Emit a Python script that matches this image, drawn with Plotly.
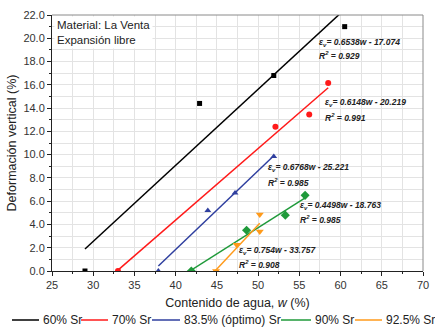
import plotly.graph_objects as go

# ---- data ----
series_names = ["60% Sr", "70% Sr", "83.5% (óptimo) Sr", "90% Sr", "92.5% Sr"]
colors = ["#000000", "#ff1a1a", "#2f3f9f", "#1f9a3a", "#ff9a1a"]
symbols = ["square", "circle", "triangle-up", "diamond", "triangle-down"]

w_60 = [29.0, 42.9, 51.9, 60.5]
ev_60 = [0.0, 14.4, 16.8, 21.0]
w_70 = [33.0, 52.1, 56.2, 58.5]
ev_70 = [0.0, 12.4, 13.45, 16.15]
w_835 = [37.9, 43.9, 47.2, 51.9]
ev_835 = [0.0, 5.2, 6.7, 9.85]
w_90 = [41.9, 48.6, 53.3, 55.7]
ev_90 = [0.0, 3.5, 4.8, 6.5]
w_925 = [44.9, 47.4, 50.2, 50.2]
ev_925 = [0.0, 2.25, 3.4, 4.85]

slopes = [0.6538, 0.6148, 0.6768, 0.4498, 0.754]
intercepts = [-17.074, -20.219, -25.221, -18.763, -33.757]
r2_values = ["0.929", "0.991", "0.985", "0.985", "0.908"]
fit_x_start = [29.0, 33.0, 37.9, 41.8, 44.8]
fit_x_end = [60.5, 58.5, 51.9, 55.8, 50.2]

eq_pos_x = [57.2, 57.9, 50.9, 54.8, 47.4]
eq_pos_y = [19.67, 14.52, 8.88, 5.64, 1.78]
r2_pos_y = [18.53, 13.23, 7.62, 4.42, 0.52]

w_data = [w_60, w_70, w_835, w_90, w_925]
ev_data = [ev_60, ev_70, ev_835, ev_90, ev_925]

# ---- layout geometry (pixels) ----
W, H = 435, 327
ML, MR, MT, MB = 52, 12, 15, 56
plot_w = W - ML - MR
plot_h = H - MT - MB


def px_to_paper_x(px):
    return (px - ML) / plot_w


def px_to_paper_y(py):
    return (H - MB - py) / plot_h


FONT = "Liberation Sans, Arial"

fig = go.Figure()

for i in range(5):
    xs = [fit_x_start[i], fit_x_end[i]]
    ys = [slopes[i] * x + intercepts[i] for x in xs]
    fig.add_trace(go.Scatter(
        x=xs, y=ys, mode="lines", name=series_names[i],
        line=dict(color=colors[i], width=1.5), showlegend=False,
    ))
marker_sizes = [5, 6, 6, 7, 7]
for i in range(5):
    fig.add_trace(go.Scatter(
        x=w_data[i], y=ev_data[i], mode="markers", showlegend=False,
        marker=dict(symbol=symbols[i], color=colors[i], size=marker_sizes[i],
                    line=dict(width=0)),
        cliponaxis=True,
    ))

ann = []
for i in range(5):
    sign = "-" if intercepts[i] < 0 else "+"
    ann.append(dict(
        x=eq_pos_x[i], y=eq_pos_y[i], xref="x", yref="y", xanchor="left", yanchor="middle",
        text=f"<b><i>ε<sub>v</sub>= {slopes[i]}w {sign} {abs(intercepts[i]):.3f}</i></b>",
        showarrow=False, font=dict(size=8.5, color="#222222", family=FONT),
    ))
    ann.append(dict(
        x=eq_pos_x[i], y=r2_pos_y[i], xref="x", yref="y", xanchor="left", yanchor="middle",
        text=f"<b><i>R<sup>2</sup> = {r2_values[i]}</i></b>",
        showarrow=False, font=dict(size=8.5, color="#222222", family=FONT),
    ))
ann.append(dict(
    x=0.005, y=0.995, xref="paper", yref="paper", xanchor="left", yanchor="top",
    text="Material: La Venta<br>Expansión libre", align="left", showarrow=False,
    bgcolor="white", borderpad=2,
    font=dict(size=11.5, color="#222222", family=FONT),
))

# ---- custom horizontal legend (line swatch + text) ----
legend_line_px = [(12, 39), (81, 108), (152, 180), (281, 311), (355, 382)]
legend_y_px = 320
shapes = [
    # gray top and right frame
    dict(type="line", xref="paper", yref="paper", x0=0, x1=1, y0=1, y1=1,
         line=dict(color="#8a8a8a", width=1)),
    dict(type="line", xref="paper", yref="paper", x0=1, x1=1, y0=0, y1=1,
         line=dict(color="#8a8a8a", width=1)),
]
for i in range(5):
    x0, x1 = legend_line_px[i]
    shapes.append(dict(
        type="line", xref="paper", yref="paper",
        x0=px_to_paper_x(x0), x1=px_to_paper_x(x1),
        y0=px_to_paper_y(legend_y_px), y1=px_to_paper_y(legend_y_px),
        line=dict(color=colors[i], width=1.5),
    ))
    ann.append(dict(
        x=px_to_paper_x(x1 + 2), y=px_to_paper_y(legend_y_px), xref="paper", yref="paper",
        xanchor="left", yanchor="middle", text=series_names[i], showarrow=False,
        font=dict(size=12, color="#222222", family=FONT),
    ))

axis_common = dict(
    showline=True, linecolor="#222222", linewidth=1, mirror=False,
    ticks="outside", ticklen=4, tickcolor="#222222",
    showgrid=True, gridcolor="#e3e3e3", gridwidth=1, zeroline=False,
    tickfont=dict(size=11, color="#333333", family=FONT),
    automargin=False,
)

fig.update_xaxes(
    range=[25, 70], dtick=5, **axis_common,
    minor=dict(dtick=2.5, ticks="outside", ticklen=2, tickcolor="#222222",
               showgrid=True, gridcolor="#e3e3e3"),
    title=dict(text="Contenido de agua, <i>w</i> (%)", standoff=8,
               font=dict(size=12.5, color="#222222", family=FONT)),
)
fig.update_yaxes(
    range=[0, 22], dtick=2, tickformat=".1f", **axis_common,
    minor=dict(dtick=1, ticks="outside", ticklen=2, tickcolor="#222222",
               showgrid=True, gridcolor="#e3e3e3"),
    title=dict(text="Deformación vertical (%)", standoff=4,
               font=dict(size=12.5, color="#222222", family=FONT)),
)

fig.update_layout(
    width=W, height=H,
    margin=dict(l=ML, r=MR, t=MT, b=MB),
    plot_bgcolor="white", paper_bgcolor="white",
    annotations=ann, shapes=shapes,
    showlegend=False,
    font=dict(family=FONT),
)

fig.write_html("out.html")
